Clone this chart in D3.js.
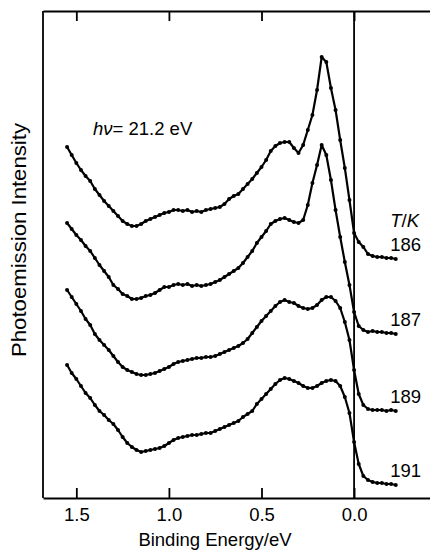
<!DOCTYPE html>
<html>
<head>
<meta charset="utf-8">
<script src="https://cdn.jsdelivr.net/npm/d3@7"></script>
<style>
  body { margin: 0; background: #fff; }
  svg { font-family: "Liberation Sans", Arial, Helvetica, sans-serif; }
</style>
</head>
<body>
<script>
// ---- data (arbitrary intensity units, curves offset) ----
// binding energies: 1.55 eV down to -0.225 eV in steps of 0.025 eV
var energies = d3.range(72).map(function(i) { return +(1.55 - 0.025 * i).toFixed(3); });

var temps = ["186", "187", "189", "191"];

var i186 = [70.2,68.6,67.0,65.6,64.4,63.4,61.8,60.6,59.4,58.4,
            57.4,56.4,55.4,54.8,54.4,54.4,54.8,55.4,55.8,56.2,
            56.6,57.0,57.2,57.6,57.6,57.4,57.6,57.2,57.4,57.2,
            57.6,57.8,58.0,58.2,58.8,59.8,60.4,60.8,61.8,62.8,
            63.8,65.0,66.2,67.6,69.4,70.4,71.0,71.2,71.2,70.0,
            69.0,70.6,73.6,76.6,81.6,88.2,87.2,82.0,77.6,71.6,
            66.0,59.6,53.0,51.2,50.2,48.8,48.4,48.2,48.2,48.0,
            48.0,47.8];

var i187 = [55.0,53.8,52.6,51.6,50.4,49.4,48.0,46.6,45.4,44.2,
            42.6,41.8,40.8,40.4,39.8,39.8,40.0,40.4,40.6,41.0,
            41.6,42.2,42.2,42.6,42.8,42.6,42.8,42.4,42.6,42.4,
            42.6,42.8,43.2,43.6,44.2,44.8,45.4,46.0,47.0,48.2,
            49.4,51.0,52.2,53.4,54.8,55.4,55.8,56.0,55.6,55.2,
            55.0,55.6,58.6,63.0,66.6,70.6,68.6,63.6,57.6,52.2,
            47.2,42.6,37.2,34.4,33.6,33.2,33.4,33.2,33.2,33.0,
            33.0,32.8];

var i189 = [41.6,40.2,38.8,37.4,35.8,34.6,32.8,31.6,30.6,29.6,
            28.4,27.2,26.2,25.6,25.2,24.8,24.6,24.6,24.8,25.0,
            25.4,25.8,26.2,26.8,27.2,27.4,27.6,27.8,28.0,28.0,
            28.2,28.2,28.4,28.8,29.2,29.6,30.0,30.4,31.0,31.8,
            33.0,34.2,35.4,36.4,37.4,38.4,39.2,39.6,39.2,39.0,
            38.4,38.0,37.8,38.0,38.6,39.6,40.2,40.2,39.4,38.0,
            35.2,31.6,25.6,20.8,18.6,17.8,17.6,17.6,17.6,17.4,
            17.6,17.4];

var i191 = [26.6,25.0,23.8,22.4,21.0,20.0,18.6,17.4,16.6,15.6,
            14.8,13.6,12.2,11.0,10.2,9.6,9.2,9.4,9.6,9.8,
            10.0,10.4,11.0,11.6,12.0,12.2,12.4,12.6,12.6,12.8,
            13.0,13.0,13.4,13.8,14.2,14.6,15.0,15.4,16.2,16.8,
            17.4,18.8,19.8,20.8,21.8,22.8,23.6,24.0,23.8,23.4,
            23.0,22.4,22.0,22.0,22.4,23.0,23.4,23.6,23.4,22.4,
            20.2,17.0,11.2,6.8,4.4,3.6,3.2,3.0,3.0,2.8,
            2.8,2.6];

var xTicks = [1.5, 1.0, 0.5, 0.0];

// ---- layout ----
var margin = {top: 11, right: 0, bottom: 53, left: 43},
    width = 430 - margin.left - margin.right,
    height = 551 - margin.top - margin.bottom;

var x = d3.scaleLinear().domain([1.68, -0.41]).range([0, width]);
var y = d3.scaleLinear().domain([0, 97.4]).range([height, 0]);

var svg = d3.select("body").append("svg")
    .attr("width", 430)
    .attr("height", 551);

var g = svg.append("g")
    .attr("transform", "translate(" + margin.left + "," + margin.top + ")");

// frame: bottom axis with inward ticks and labels
var xAxis = g.append("g")
    .attr("transform", "translate(0," + height + ")")
    .call(d3.axisBottom(x).tickValues(xTicks).tickSize(-10).tickSizeOuter(0)
          .tickPadding(10).tickFormat(d3.format(".1f")));

// top axis, ticks only
var xAxisTop = g.append("g")
    .call(d3.axisTop(x).tickValues(xTicks).tickSize(-10).tickSizeOuter(0)
          .tickFormat(""));

[xAxis, xAxisTop].forEach(function(a) {
  a.select(".domain").attr("stroke", "#000").attr("stroke-width", 1.8);
  a.selectAll(".tick line").attr("stroke", "#000").attr("stroke-width", 1.8);
  a.selectAll("text").attr("fill", "#000").style("font-size", "18.5px")
    .style("font-family", "'Liberation Sans', Arial, sans-serif");
});

// left frame line
g.append("line")
    .attr("x1", 0).attr("x2", 0)
    .attr("y1", 0).attr("y2", height)
    .attr("stroke", "#000").attr("stroke-width", 1.8);

// Fermi level line at 0 eV
g.append("line")
    .attr("x1", x(0)).attr("x2", x(0))
    .attr("y1", 0).attr("y2", height)
    .attr("stroke", "#000").attr("stroke-width", 1.8);

// ---- spectra ----
var series = [i186, i187, i189, i191];

var line = d3.line()
    .x(function(d, i) { return x(energies[i]); })
    .y(function(d) { return y(d); });

series.forEach(function(s) {
  g.append("path")
      .datum(s)
      .attr("fill", "none")
      .attr("stroke", "#000")
      .attr("stroke-width", 2.2)
      .attr("stroke-linejoin", "round")
      .attr("d", line);

  g.selectAll(null)
      .data(s)
      .enter()
      .append("circle")
      .attr("cx", function(d, i) { return x(energies[i]); })
      .attr("cy", function(d) { return y(d); })
      .attr("r", 2)
      .attr("fill", "#000");
});

// temperature labels (placed at the tail level of each curve)
var tailLevels = [i186[71], i187[71], i189[71], i191[71]];

g.selectAll(".tlabel")
    .data(temps)
    .enter()
    .append("text")
    .attr("class", "tlabel")
    .attr("x", x(-0.195))
    .attr("y", function(d, i) { return y(tailLevels[i]) - 8; })
    .style("font-size", "18.5px")
    .text(function(d) { return d; });

var tk = g.append("text")
    .attr("x", x(-0.195))
    .attr("y", y(tailLevels[0]) - 32)
    .style("font-size", "18.5px");
tk.append("tspan").style("font-style", "italic").text("T");
tk.append("tspan").text("/");
tk.append("tspan").style("font-style", "italic").text("K");

// photon energy annotation
var hv = g.append("text")
    .attr("x", x(1.41))
    .attr("y", y(72.6))
    .style("font-size", "18.5px");
hv.append("tspan").style("font-style", "italic").text("h\u03bd");
hv.append("tspan").text("= 21.2 eV");

// axis titles
svg.append("text")
    .attr("x", 215)
    .attr("y", 546)
    .attr("text-anchor", "middle")
    .style("font-size", "18.5px")
    .text("Binding Energy/eV");

svg.append("text")
    .attr("transform", "translate(26,240) rotate(-90)")
    .attr("text-anchor", "middle")
    .attr("textLength", 234)
    .attr("lengthAdjust", "spacingAndGlyphs")
    .style("font-size", "20.5px")
    .text("Photoemission Intensity");
</script>
</body>
</html>
